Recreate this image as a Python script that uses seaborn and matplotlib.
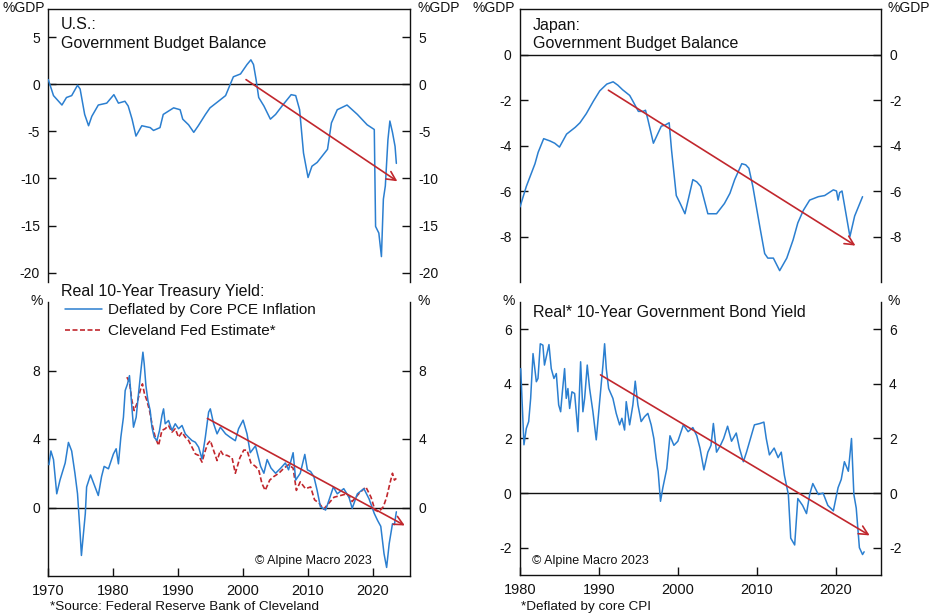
import matplotlib
matplotlib.use("Agg")
import matplotlib.pyplot as plt
import seaborn as sns

# ---------------------------------------------------------------------------
# Data
# ---------------------------------------------------------------------------
us_bal_year = [1970.0, 1970.8, 1972.1, 1972.8, 1973.6, 1974.5, 1974.9, 1975.6, 1976.2, 1976.7,
               1977.7, 1979.0, 1980.1, 1980.8, 1981.8, 1982.3, 1982.9, 1983.5, 1984.4, 1985.7,
               1986.2, 1987.2, 1987.7, 1989.3, 1990.3, 1990.7, 1991.6, 1992.4, 1993.1, 1994.2,
               1994.9, 1996.2, 1997.3, 1998.5, 1999.6, 2000.6, 2001.2, 2001.6, 2002.0, 2002.4,
               2003.2, 2004.2, 2005.0, 2006.0, 2007.4, 2008.1, 2008.7, 2009.3, 2010.0, 2010.6,
               2011.4, 2012.2, 2013.0, 2013.6, 2014.5, 2016.0, 2017.6, 2019.1, 2020.2, 2020.4,
               2020.9, 2021.3, 2021.6, 2021.9, 2022.3, 2022.6, 2023.0, 2023.4, 2023.6]
us_bal = [0.5, -1.2, -2.2, -1.4, -1.2, -0.1, -0.5, -3.2, -4.4, -3.4,
          -2.2, -2.0, -1.1, -2.0, -1.8, -2.3, -3.7, -5.5, -4.4, -4.6,
          -4.9, -4.6, -3.2, -2.5, -2.7, -3.7, -4.3, -5.1, -4.4, -3.2,
          -2.5, -1.8, -1.2, 0.8, 1.1, 2.1, 2.6, 2.1, 0.5, -1.4,
          -2.3, -3.7, -3.2, -2.3, -1.1, -1.2, -2.7, -7.3, -9.9, -8.7,
          -8.3, -7.6, -6.9, -4.1, -2.7, -2.2, -3.2, -4.3, -4.8, -15.1,
          -15.8, -18.3, -12.2, -10.8, -5.9, -3.9, -5.1, -6.6, -8.4]

us_pce_year = [1970.1, 1970.4, 1970.8, 1971.3, 1971.8, 1972.6, 1973.1, 1973.6, 1974.1, 1974.5,
               1974.9, 1975.1, 1975.7, 1975.9, 1976.5, 1977.2, 1977.7, 1978.2, 1978.6, 1979.26,
               1980.03, 1980.45, 1980.8, 1981.17, 1981.57, 1981.84, 1982.2, 1982.5, 1982.87, 1983.12,
               1983.53, 1983.89, 1984.26, 1984.57, 1984.77, 1985.03, 1985.34, 1985.69, 1985.96, 1986.31,
               1986.73, 1987.13, 1987.5, 1987.75, 1988.0, 1988.52, 1989.04, 1989.55, 1990.06, 1990.59,
               1991.1, 1991.6, 1992.13, 1992.64, 1993.15, 1993.67, 1994.18, 1994.69, 1994.95, 1995.46,
               1995.99, 1996.5, 1997.3, 1998.0, 1998.8, 1999.3, 2000.0, 2000.6, 2001.1,
               2001.9, 2002.7, 2003.2, 2003.7, 2004.3, 2005.0, 2005.8, 2006.5, 2007.0, 2007.7,
               2008.1, 2008.8, 2009.5, 2009.9, 2010.4, 2010.9, 2011.4, 2011.9, 2012.7, 2013.2,
               2013.9, 2014.5, 2015.5, 2016.3, 2016.8, 2017.6, 2018.6, 2019.4, 2020.2, 2020.7,
               2021.2, 2021.7, 2022.1, 2022.5, 2023.0, 2023.3, 2023.6]
us_pce = [2.5, 3.3, 2.8, 0.8, 1.6, 2.6, 3.8, 3.3, 2.0, 0.8,
          -1.5, -2.8, -0.35, 1.2, 1.9, 1.2, 0.7, 1.8, 2.4, 2.26,
          3.13, 3.43, 2.55, 4.1, 5.27, 6.83, 7.22, 7.7, 5.86, 4.69,
          5.27, 6.64, 8.0, 9.07, 8.39, 7.12, 6.25, 5.66, 4.69, 4.1,
          3.91, 4.5, 5.37, 5.76, 4.89, 5.08, 4.5, 4.89, 4.6, 4.79,
          4.3, 4.1, 3.91, 3.81, 3.52, 2.84, 4.1, 5.57, 5.76, 4.89,
          4.3, 4.69, 4.3, 4.1, 3.9, 4.6, 5.1, 4.3, 3.2,
          3.6, 2.4, 2.0, 2.8, 2.3, 2.0, 2.3, 2.6, 2.2, 3.2,
          1.6, 2.0, 3.1, 2.2, 2.1, 1.8, 1.0, 0.05, -0.15, 0.4,
          1.2, 0.8, 1.1, 0.6, -0.05, 0.8, 1.1, 0.5, -0.35, -0.75,
          -1.1, -2.7, -3.5, -2.1, -0.95, -1.0, -0.25]

us_clev_year = [1982.1, 1982.5, 1982.87, 1983.22, 1983.64, 1984.15, 1984.5, 1984.81, 1985.18, 1985.59,
                1985.96, 1986.47, 1986.98, 1987.5, 1988.0, 1988.52, 1989.04, 1989.55, 1990.06, 1990.59,
                1991.1, 1991.6, 1992.13, 1992.64, 1993.15, 1993.67, 1994.18, 1994.54, 1994.95, 1995.46,
                1995.99, 1996.5, 1997.0, 1997.5, 1998.3,
                1998.8, 1999.5, 2000.1, 2000.6, 2001.2, 2001.9, 2002.4, 2002.9, 2003.4, 2004.1,
                2004.7, 2005.5, 2006.3, 2007.0, 2007.7, 2008.2, 2008.8, 2009.6, 2010.4, 2011.0,
                2011.7, 2012.4, 2013.2, 2014.0, 2015.0, 2016.0, 2016.8, 2017.8, 2018.9, 2019.7,
                2020.3, 2020.9, 2021.6, 2022.1, 2022.6, 2023.0, 2023.3, 2023.6]
us_clev = [7.61, 7.32, 6.25, 5.66, 6.06, 6.83, 7.22, 6.64, 6.25, 5.66,
           4.89, 4.1, 3.62, 4.5, 4.6, 4.79, 4.4, 4.6, 4.1, 4.4,
           4.1, 3.91, 3.52, 3.13, 3.04, 2.65, 3.33, 3.72, 3.91, 3.33,
           2.74, 3.33, 3.04, 3.05, 2.9,
           2.0, 2.9, 3.35, 3.35, 2.6, 2.4, 2.2, 1.4, 1.0, 1.6,
           1.8, 2.0, 2.3, 2.5, 2.3, 1.0, 1.5, 1.1, 1.2, 0.45,
           0.25, -0.1, 0.25, 0.6, 0.7, 0.8, 0.35, 0.8, 1.2, 0.6,
           -0.15, -0.25, 0.05, 0.6, 1.4, 2.0, 1.6, 1.7]

jp_bal_year = [1980.0, 1980.8, 1981.9, 1982.3, 1983.0, 1983.8, 1984.4, 1985.0, 1985.9, 1987.0,
               1987.6, 1988.4, 1989.3, 1990.1, 1991.0, 1991.8, 1992.4, 1993.0, 1993.9, 1994.3,
               1995.0, 1995.6, 1995.9, 1996.2, 1996.9, 1997.5, 1997.9, 1998.4, 1998.9, 1999.2,
               1999.8, 2000.3, 2000.9, 2001.3, 2001.9, 2002.4, 2002.9, 2003.8, 2004.9, 2005.9,
               2006.6, 2007.2, 2008.1, 2008.6, 2009.0, 2009.5, 2010.4, 2011.0, 2011.4, 2012.1,
               2012.9, 2013.8, 2014.6, 2015.2, 2015.9, 2016.7, 2017.8, 2018.6, 2019.7, 2020.1,
               2020.3, 2020.5, 2020.8, 2021.3, 2021.8, 2022.4, 2023.4]
jp_bal = [-6.7, -5.8, -4.8, -4.3, -3.7, -3.8, -3.9, -4.07, -3.5, -3.2,
          -3.0, -2.6, -2.05, -1.6, -1.3, -1.2, -1.35, -1.55, -1.8, -2.05,
          -2.5, -2.5, -2.45, -2.85, -3.9, -3.45, -3.15, -3.1, -3.0, -4.2,
          -6.2, -6.55, -7.0, -6.4, -5.5, -5.6, -5.8, -7.0, -7.0, -6.55,
          -6.1, -5.5, -4.8, -4.85, -5.0, -5.8, -7.6, -8.75, -8.95, -8.95,
          -9.5, -8.95, -8.15, -7.4, -6.85, -6.4, -6.25, -6.2, -5.95, -6.0,
          -6.4, -6.07, -6.0, -7.0, -8.0, -7.1, -6.25]

jp_yld_year = [1980.09, 1980.25, 1980.5, 1980.8, 1981.1, 1981.35, 1981.65, 1982.07, 1982.28, 1982.57,
               1982.9, 1983.1, 1983.33, 1983.67, 1983.96, 1984.3, 1984.6, 1984.9, 1985.15, 1985.35,
               1985.65, 1985.86, 1986.07, 1986.29, 1986.58, 1986.92, 1987.34, 1987.68, 1987.97, 1988.19,
               1988.52, 1988.82, 1989.24, 1989.66, 1990.09, 1990.51, 1990.72, 1990.93, 1991.23, 1991.77,
               1992.19, 1992.62, 1992.91, 1993.25, 1993.46, 1993.89, 1994.3, 1994.6, 1994.94, 1995.35,
               1995.78, 1996.2, 1996.62, 1996.96, 1997.25, 1997.5, 1997.8, 1998.1,
               1998.6, 1999.0, 1999.5, 2000.0, 2000.7, 2001.3, 2001.9, 2002.4, 2002.8, 2003.3,
               2003.8, 2004.2, 2004.5, 2004.9, 2005.4, 2005.8, 2006.3, 2006.8, 2007.4, 2007.8,
               2008.3, 2008.7, 2009.3, 2009.7, 2010.4, 2010.9, 2011.2, 2011.6, 2012.2, 2012.7,
               2013.1, 2013.5, 2014.0, 2014.3, 2014.8, 2015.2, 2015.8, 2016.3, 2016.7, 2017.1,
               2017.8, 2018.4, 2019.0, 2019.7, 2020.3, 2020.7, 2021.1, 2021.6, 2022.0, 2022.3,
               2022.6, 2023.0, 2023.4, 2023.6]
jp_yld = [4.56, 3.47, 1.77, 2.37, 2.62, 3.47, 5.11, 4.08, 4.2, 5.47,
          5.42, 4.69, 4.99, 5.44, 4.56, 4.2, 4.38, 3.23, 2.98, 3.65,
          4.56, 3.47, 3.83, 3.1, 3.71, 3.65, 2.25, 4.81, 2.98, 3.47,
          4.69, 3.83, 2.98, 1.95, 3.35, 4.69, 5.47, 4.56, 3.83, 3.47,
          2.92, 2.5, 2.74, 2.31, 3.35, 2.5, 3.23, 4.1, 3.23, 2.62,
          2.8, 2.92, 2.5, 2.0, 1.28, 0.8, -0.3, 0.2,
          0.9, 2.1, 1.75, 1.9, 2.5, 2.25, 2.4, 2.1, 1.65, 0.85,
          1.5, 1.75, 2.55, 1.5, 1.75, 2.0, 2.45, 1.9, 2.2, 1.65,
          1.15, 1.5, 2.1, 2.5, 2.55, 2.6, 2.0, 1.4, 1.65, 1.3,
          1.5, 0.65, -0.05, -1.65, -1.9, -0.2, -0.45, -0.75, -0.05, 0.35,
          -0.05, 0.0, -0.45, -0.65, 0.2, 0.5, 1.15, 0.8, 2.0, -0.05,
          -0.55, -2.0, -2.25, -2.15]

# trend arrows: (start year, start value, end year, end value)
us_bal_trend = [2000.45, 0.5, 2023.75, -10.3]
us_yld_trend = [1994.5, 5.2, 2024.9, -1.05]
jp_bal_trend = [1991.2, -1.57, 2022.5, -8.4]
jp_yld_trend = [1990.2, 4.33, 2024.3, -1.55]

# ---------------------------------------------------------------------------
# Style
# ---------------------------------------------------------------------------
BLUE = "#2b7fd0"
RED = "#c1272d"
FONT = ["Liberation Sans", "DejaVu Sans"]
LW = 1.1

sns.set_theme(style="white")
plt.rcParams.update({
    "font.family": FONT,
    "font.size": 10,
    "axes.edgecolor": "#111111",
    "axes.linewidth": 1.0,
    "xtick.color": "#111111",
    "ytick.color": "#111111",
    "text.color": "#111111",
})

W, H = 936, 616
fig = plt.figure(figsize=(W / 100, H / 100), dpi=100)
fig.patch.set_facecolor("white")


def px_ax(x0, y0, x1, y1):
    """Axes from pixel box (top-left origin)."""
    return fig.add_axes([x0 / W, 1 - y1 / H, (x1 - x0) / W, (y1 - y0) / H])


def style_axes(ax, top_panel, yticks):
    ax.set_yticks(yticks)
    ax.set_yticklabels([str(t) for t in yticks])
    ax.tick_params(axis="y", which="both", direction="in", length=6, width=1,
                   left=True, right=True, labelleft=True, labelright=True,
                   labelsize=10, pad=6)
    if top_panel:
        ax.spines["bottom"].set_visible(False)
        ax.tick_params(axis="x", bottom=False, labelbottom=False)
    else:
        ax.spines["top"].set_visible(False)
        ax.tick_params(axis="x", direction="in", length=6, width=1,
                       bottom=True, labelbottom=True, labelsize=10.5, pad=6)
    ax.axhline(0, color="#111111", lw=1.0, zorder=1)
    ax.set_xlabel("")
    ax.set_ylabel("")
    ax.grid(False)


def trend(ax, t):
    ax.annotate("", xy=(t[2], t[3]), xytext=(t[0], t[1]),
                arrowprops=dict(arrowstyle="->", color=RED, lw=1.2,
                                mutation_scale=16, shrinkA=0, shrinkB=0),
                zorder=5)


# --- US budget balance ------------------------------------------------------
ax1 = px_ax(48.3, 9, 410, 282)
sns.lineplot(x=us_bal_year, y=us_bal, ax=ax1, color=BLUE, lw=LW, zorder=3)
ax1.set_xlim(1970, 2025.7)
ax1.set_ylim(-21, 8)
style_axes(ax1, True, [5, 0, -5, -10, -15, -20])
trend(ax1, us_bal_trend)
ax1.text(0.035, 0.945, "U.S.:", transform=ax1.transAxes, fontsize=11.5, va="center")
ax1.text(0.035, 0.872, "Government Budget Balance", transform=ax1.transAxes,
         fontsize=11.5, va="center")

# --- US real yield ----------------------------------------------------------
ax2 = px_ax(48.3, 302, 410, 576)
sns.lineplot(x=us_pce_year, y=us_pce, ax=ax2, color=BLUE, lw=LW, zorder=3,
             label="Deflated by Core PCE Inflation")
sns.lineplot(x=us_clev_year, y=us_clev, ax=ax2, color=RED, lw=LW + 0.1, zorder=2,
             linestyle=(0, (3, 1.5)), label="Cleveland Fed Estimate*")
ax2.set_xlim(1970, 2025.7)
ax2.set_ylim(-4, 12)
ax2.set_xticks([1970, 1980, 1990, 2000, 2010, 2020])
style_axes(ax2, False, [0, 4, 8])
trend(ax2, us_yld_trend)
ax2.text(0.035, 1.04, "Real 10-Year Treasury Yield:", transform=ax2.transAxes,
         fontsize=11.5, va="center")
ax2.legend(loc="upper left", bbox_to_anchor=(0.046, 0.995), frameon=False,
           fontsize=11, handlelength=2.4, handletextpad=0.45, labelspacing=0.45,
           borderpad=0, borderaxespad=0)
ax2.text(0.895, 0.056, "\u00a9 Alpine Macro 2023", transform=ax2.transAxes,
         fontsize=9, ha="right", va="center")

# --- Japan budget balance ---------------------------------------------------
ax3 = px_ax(520, 9, 880.7, 282)
sns.lineplot(x=jp_bal_year, y=jp_bal, ax=ax3, color=BLUE, lw=LW, zorder=3)
ax3.set_xlim(1980, 2025.7)
ax3.set_ylim(-10, 2)
style_axes(ax3, True, [0, -2, -4, -6, -8])
trend(ax3, jp_bal_trend)
ax3.text(0.035, 0.94, "Japan:", transform=ax3.transAxes, fontsize=11.5, va="center")
ax3.text(0.035, 0.875, "Government Budget Balance", transform=ax3.transAxes,
         fontsize=11.5, va="center")

# --- Japan real yield -------------------------------------------------------
ax4 = px_ax(520, 302, 880.7, 575)
sns.lineplot(x=jp_yld_year, y=jp_yld, ax=ax4, color=BLUE, lw=LW, zorder=3)
ax4.set_xlim(1980, 2025.7)
ax4.set_ylim(-3, 7)
ax4.set_xticks([1980, 1990, 2000, 2010, 2020])
style_axes(ax4, False, [-2, 0, 2, 4, 6])
trend(ax4, jp_yld_trend)
ax4.text(0.035, 0.96, "Real* 10-Year Government Bond Yield", transform=ax4.transAxes,
         fontsize=11.5, va="center")
ax4.text(0.034, 0.052, "\u00a9 Alpine Macro 2023", transform=ax4.transAxes,
         fontsize=9, ha="left", va="center")

# --- unit labels and footnotes ----------------------------------------------
def ftext(x, y, s, **kw):
    fig.text(x / W, 1 - y / H, s, va="center", **kw)


ftext(45, 8, "%GDP", ha="right", fontsize=10)
ftext(417, 8, "%GDP", ha="left", fontsize=10)
ftext(515, 8, "%GDP", ha="right", fontsize=10)
ftext(887, 8, "%GDP", ha="left", fontsize=10)
ftext(43, 301, "%", ha="right", fontsize=10)
ftext(417, 301, "%", ha="left", fontsize=10)
ftext(515, 301, "%", ha="right", fontsize=10)
ftext(887, 301, "%", ha="left", fontsize=10)
ftext(50, 607, "*Source: Federal Reserve Bank of Cleveland", ha="left", fontsize=9.7)
ftext(521, 607, "*Deflated by core CPI", ha="left", fontsize=9.7)

fig.savefig("out.png", dpi=100, facecolor="white")
